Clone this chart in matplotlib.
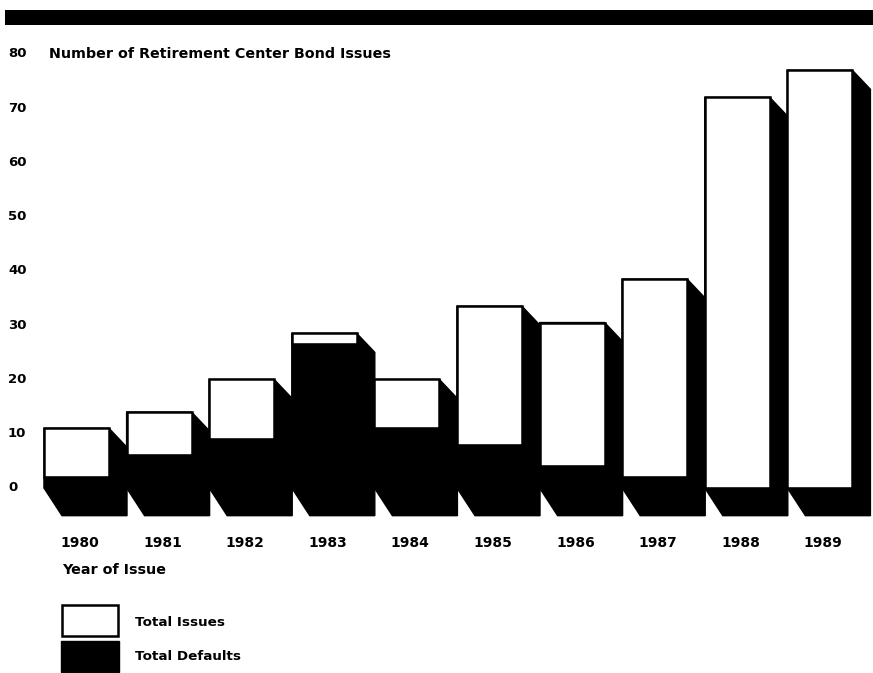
import numpy as np
import matplotlib.pyplot as plt
from matplotlib.patches import Rectangle, Polygon

# retirement center bonds: issues vs defaults per year
years = ["1980", "1981", "1982", "1983", "1984", "1985", "1986", "1987", "1988", "1989"]
total_issues = [11, 14, 20, 28.5, 20, 33.5, 30.5, 38.5, 72, 77]
total_defaults = [2, 6, 9, 26.5, 11, 8, 4, 2, 0, 0]
yticks = [0, 10, 20, 30, 40, 50, 60, 70, 80]

W = 0.787      # bar width (1 = one bar slot)
DX = 0.218     # depth offset, x
DY_TOP = 3.5   # depth drop at the top of a bar
DY_BOT = 5.1   # depth drop at the floor

plt.rcParams['font.family'] = ['DejaVu Sans']

fig = plt.figure(figsize=(8.73, 6.73), dpi=100)
ax = fig.add_axes([0, 0, 1, 1])
ax.set_xlim(-44 / 82.6, (873 - 44) / 82.6)
ax.set_ylim((488 - 673) / 5.425, 488 / 5.425)
ax.axis('off')

# black band across the top
fig.add_artist(Rectangle((5 / 873, 1 - 25 / 673), 1, 15 / 673, transform=fig.transFigure,
                         facecolor='black', edgecolor='none'))

# depth shadows first, then the front faces
for i, h in enumerate(total_issues):
    x0, x1 = i, i + W
    pts = [(x0, 0), (x0, h), (x1, h), (x1 + DX, h - DY_TOP), (x1 + DX, -DY_BOT), (x0 + DX, -DY_BOT)]
    ax.add_patch(Polygon(pts, closed=True, facecolor='black', edgecolor='black', lw=1, zorder=1))

for i, (h, d) in enumerate(zip(total_issues, total_defaults)):
    ax.bar(i, h - d, W, bottom=d, align='edge', color='white', edgecolor='black', linewidth=1.8, zorder=3)
    ax.bar(i, d, W, bottom=0, align='edge', color='black', edgecolor='black', linewidth=1.0, zorder=4)

for v in yticks:
    ax.text(-0.436, v, str(v), ha='left', va='center', fontsize=9.5, fontweight='bold')

ax.text(0.06, 80, "Number of Retirement Center Bond Issues", ha='left', va='center',
        fontsize=10.3, fontweight='bold')

for i, y in enumerate(years):
    ax.text(i + W / 2 + 0.04, -10.1, y, ha='center', va='center', fontsize=10, fontweight='bold')
ax.text(0.218, -15.1, "Year of Issue", ha='left', va='center', fontsize=10.3, fontweight='bold')

# legend boxes
fig.add_artist(Rectangle((62 / 873, 1 - 636 / 673), 56 / 873, 31 / 673, transform=fig.transFigure,
                         facecolor='white', edgecolor='black', lw=1.8))
fig.add_artist(Rectangle((61 / 873, 1 - 672 / 673), 58 / 873, 31 / 673, transform=fig.transFigure,
                         facecolor='black', edgecolor='black', lw=1))
fig.text(135 / 873, 1 - 622 / 673, "Total Issues", ha='left', va='center', fontsize=9.7, fontweight='bold')
fig.text(135 / 873, 1 - 657 / 673, "Total Defaults", ha='left', va='center', fontsize=9.7, fontweight='bold')

fig.savefig("out.png", dpi=100, facecolor='white')
